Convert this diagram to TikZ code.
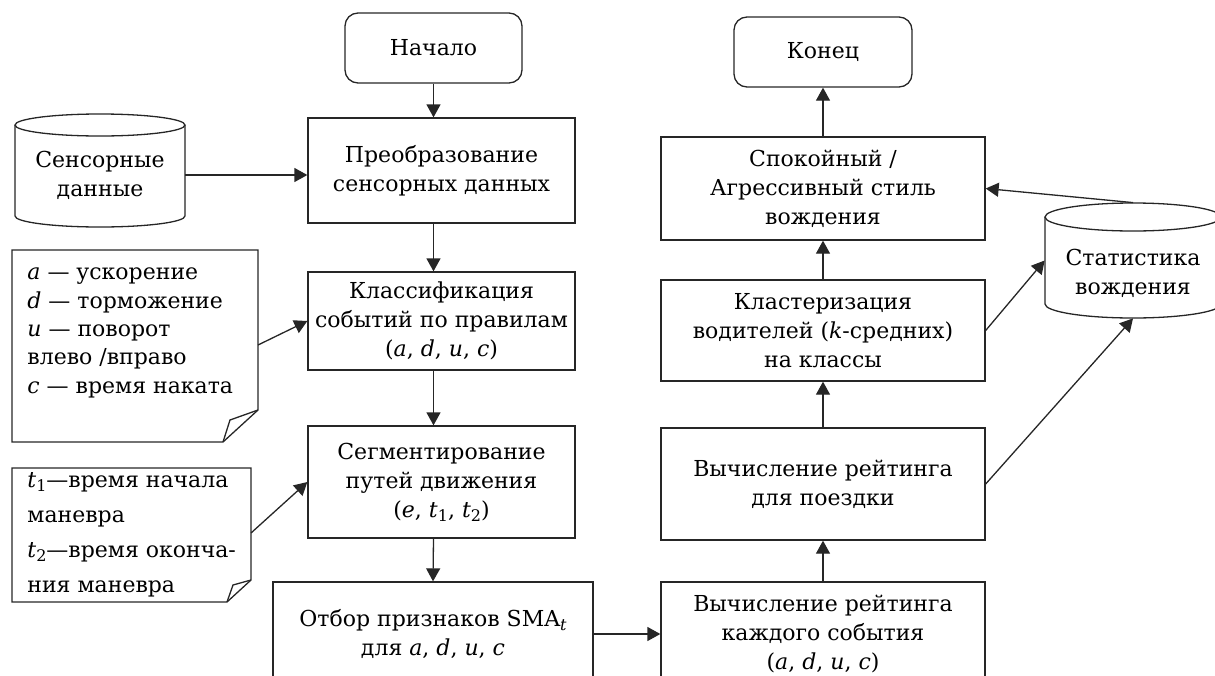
\documentclass[tikz,border=0pt]{standalone}
\usepackage{fontspec}
\setmainfont{DejaVu Serif}
\usetikzlibrary{arrows.meta}
% italic variable letters, set in the text font
\newcommand\iv[1]{\textit{#1}}
\newcommand\ivs[2]{\textit{#1}\raisebox{-0.35ex}{\fontsize{8}{8}\selectfont #2}}
\begin{document}
\begin{tikzpicture}[x=0.5pt,y=-0.5pt,
  ink/.style={draw=black!85, line width=0.65pt},
  txt/.style={font=\fontsize{11}{14.5}\selectfont, align=center, inner sep=0pt},
  procbox/.style={ink, txt, rectangle},
  termbox/.style={procbox, rounded corners=6.5pt},
  flow/.style={ink, -{Triangle[length=6.5pt,width=7pt]}},
  notetext/.style={align=left, inner sep=0pt, anchor=west},
  hidden/.style={draw=none, inner sep=0pt, rectangle},
]
\useasboundingbox (0,0) rectangle (1215,675);
\clip (0,0) rectangle (1215,675);

% --- data stores (cylinders) ---
\draw[ink, fill=white] (15,125) -- (15,216)
  arc[start angle=180, end angle=360, x radius=42.5pt, y radius=5.5pt] -- (185,125);
\draw[ink] (100,125) ellipse[x radius=42.5pt, y radius=5.5pt];
\node[hidden, txt, minimum width=85pt, minimum height=40pt] (sens) at (100,175) {Сенсорные\\данные};

\draw[ink, fill=white] (1045,217) -- (1045,304)
  arc[start angle=180, end angle=360, x radius=44pt, y radius=7pt] -- (1221,217);
\draw[ink] (1133,217) ellipse[x radius=44pt, y radius=7pt];
\node[hidden, minimum width=88pt, minimum height=57.5pt] (stats) at (1133,260.5) {};
\node[txt] (statslabel) at (1133,273) {Статистика\\вождения};

% --- notes with folded corner ---
\draw[ink] (12,250) -- (258,250) -- (258,410) -- (223,442) -- (12,442) -- cycle;
\draw[ink] (223,442) -- (230,420) -- (258,410);
\node[notetext, font=\fontsize{11}{14.2}\selectfont] (note1) at (27,333)
  {\iv{a} — ускорение\\\iv{d} — торможение\\\iv{u} — поворот\\влево /вправо\\\iv{c} — время наката};
\coordinate (n1out) at (258,345);

\draw[ink] (12,468) -- (251,468) -- (251,580) -- (227,602) -- (12,602) -- cycle;
\draw[ink] (227,602) -- (233,585) -- (251,580);
\node[notetext, font=\fontsize{11}{17.5}\selectfont] (note2) at (27,535)
  {\ivs{t}{1}—время начала\\маневра\\\ivs{t}{2}—время оконча-\\ния маневра};
\coordinate (n2out) at (251,533);

% --- process boxes ---
\node[termbox, minimum width=88.5pt, minimum height=35pt] (start) at (433.5,48) {Начало};
\node[procbox, minimum width=133.5pt, minimum height=52.5pt] (conv) at (441.5,170.5)
  {Преобразование\\сенсорных данных};
\node[procbox, minimum width=133.5pt, minimum height=49pt] (classif) at (441.5,321)
  {Классификация\\событий по правилам\\(\iv{a}, \iv{d}, \iv{u}, \iv{c})};
\node[procbox, minimum width=133.5pt, minimum height=56pt] (segm) at (441.5,482)
  {Сегментирование\\путей движения\\(\iv{e}, \ivs{t}{1}, \ivs{t}{2})};
\node[procbox, minimum width=160pt, minimum height=52pt] (select) at (433,634)
  {Отбор признаков SMA\raisebox{-0.35ex}{\fontsize{8}{8}\selectfont\iv{t}}\\для \iv{a}, \iv{d}, \iv{u}, \iv{c}};

\node[termbox, minimum width=89pt, minimum height=35pt] (end) at (823,52) {Конец};
\node[procbox, minimum width=162pt, minimum height=51.5pt] (calm) at (823,188.5)
  {Спокойный /\\Агрессивный стиль\\вождения};
\node[procbox, minimum width=162pt, minimum height=50.5pt] (clust) at (823,330.5)
  {Кластеризация\\водителей (\iv{k}-средних)\\на классы};
\node[procbox, minimum width=162pt, minimum height=56pt] (trip) at (823,484)
  {Вычисление рейтинга\\для поездки};
\node[procbox, minimum width=162pt, minimum height=52pt] (event) at (823,634)
  {Вычисление рейтинга\\каждого события\\(\iv{a}, \iv{d}, \iv{u}, \iv{c})};

% --- connectors ---
\draw[flow] (start.south) -- (start.south |- conv.north);
\draw[flow] (sens.east) -- (sens.east -| conv.west);
\draw[flow] (start.south |- conv.south) -- (start.south |- classif.north);
\draw[flow] (n1out) -- (classif.west);
\draw[flow] (start.south |- classif.south) -- (start.south |- segm.north);
\draw[flow] (n2out) -- (segm.west);
\draw[flow] (start.south |- segm.south) -- (select.north);
\draw[flow] (select.east) -- (event.west);
\draw[flow] (event.north) -- (trip.south);
\draw[flow] (trip.north) -- (clust.south);
\draw[flow] (clust.north) -- (calm.south);
\draw[flow] (calm.north) -- (end.south);
\draw[flow] (clust.east) -- (stats.west);
\draw[flow] (trip.east) -- (stats.south);
\draw[flow] (stats.north) -- (calm.east);
\end{tikzpicture}
\end{document}
